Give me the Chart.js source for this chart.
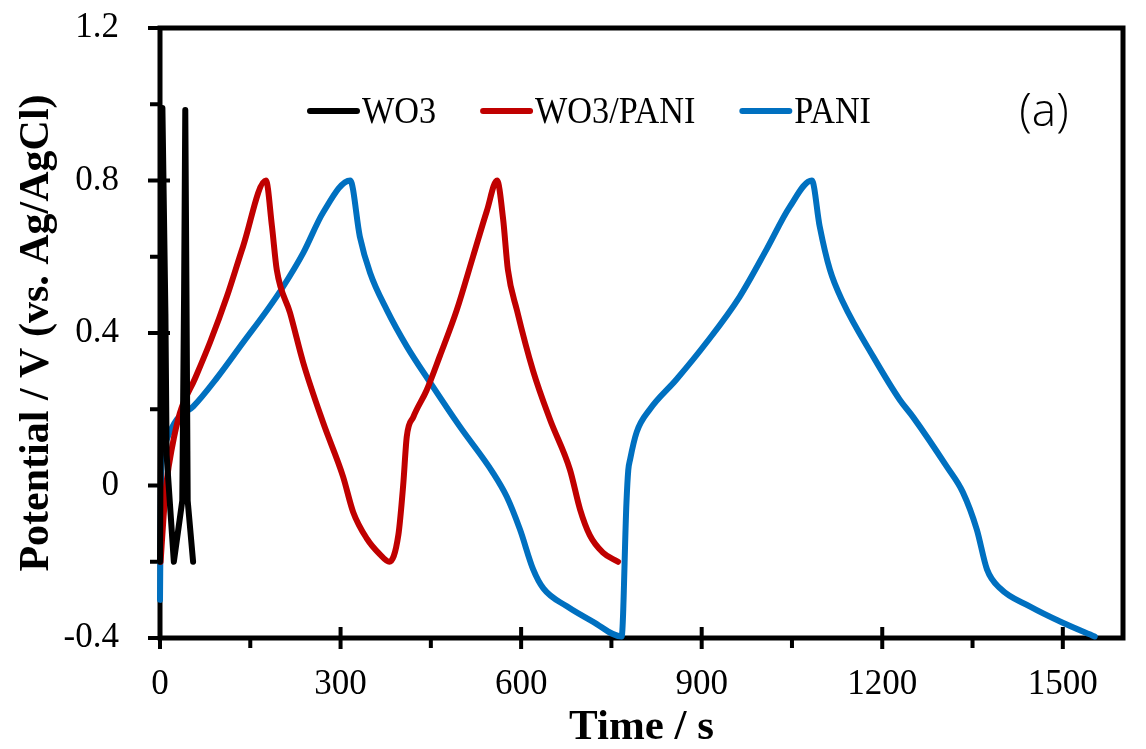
<!DOCTYPE html>
<html>
<head>
<meta charset="UTF-8">
<title>Galvanostatic charge-discharge: WO3, WO3/PANI, PANI</title>
<style>
    html, body { margin: 0; padding: 0; background: #ffffff; }
    #wrap { width: 1146px; height: 749px; }
</style>
</head>
<body>
<div id="wrap"><canvas id="gcd" width="1146" height="749"></canvas></div>

<script src="https://cdn.jsdelivr.net/npm/chart.js@4.4.3/dist/chart.umd.min.js"></script>
<script>
// series: time (s) and potential (V vs. Ag/AgCl)
const seriesNames = ['WO3', 'WO3/PANI', 'PANI'];
const seriesColors = ['#000000', '#C00000', '#0070C0'];

const wo3Time = [0, 4, 9, 11, 23, 37, 40, 42, 44, 46, 55];
const wo3Pot  = [-0.2, 0.99, 0.45, 0.08, -0.2, -0.04, 0.5, 0.985, 0.5, -0.04, -0.2];

const wpTime = [1, 6, 11, 20, 33, 58, 83, 111, 138, 176,
                186, 194, 216, 238, 271, 304, 321, 344, 365, 381,
                396, 404, 410, 421, 443, 465, 493, 520, 543, 560,
                570, 578, 593, 620, 648, 681, 698, 714, 736, 761];
const wpPot  = [-0.2, -0.08, 0.01, 0.1, 0.19, 0.28, 0.375, 0.495, 0.627, 0.8,
                0.68, 0.566, 0.453, 0.322, 0.165, 0.024, -0.07, -0.14, -0.18, -0.2,
                -0.13, 0, 0.128, 0.18, 0.25, 0.34, 0.46, 0.6, 0.72, 0.8,
                0.7, 0.566, 0.46, 0.3, 0.173, 0.042, -0.063, -0.13, -0.176, -0.2];

const paniTime = [0, 1, 2, 5, 11, 28, 55, 95, 138, 178, 204, 238, 271, 316,
                  332, 349, 377, 410, 449, 498, 553, 576, 598, 620, 637, 676, 719, 767,
                  775, 778, 781, 792, 814, 858, 908, 963, 1008, 1046, 1083,
                  1096, 1113, 1135, 1185, 1229, 1251, 1307, 1334, 1357, 1374, 1396, 1445, 1500, 1553];
const paniPot  = [-0.3, -0.1, 0.05, 0.09, 0.12, 0.173, 0.207, 0.283, 0.375, 0.46, 0.52, 0.61, 0.716, 0.8,
                  0.653, 0.558, 0.46, 0.365, 0.27, 0.155, 0.034, -0.029, -0.115, -0.22, -0.27, -0.317, -0.357, -0.396,
                  -0.045, 0.04, 0.068, 0.14, 0.2, 0.278, 0.375, 0.495, 0.62, 0.73, 0.8,
                  0.68, 0.566, 0.48, 0.338, 0.225, 0.18, 0.05, -0.018, -0.115, -0.22, -0.27, -0.317, -0.36, -0.396];

const xTicks = [0, 300, 600, 900, 1200, 1500];
const xMinorTicks = [150, 450, 750, 1050, 1350];
const yTicks = [-0.4, 0, 0.4, 0.8, 1.2];
const yMinorTicks = [-0.2, 0.2, 0.6, 1.0];

const serif = '"Liberation Serif", "Times New Roman", serif';

function toPoints(ts, vs) {
    return ts.map((t, i) => ({ x: t, y: vs[i] }));
}

// plot frame and tick marks (major ticks cross the axis, minor ones sit outside)
const framePlugin = {
    id: 'frame',
    beforeDatasetsDraw(chart) {
        const { ctx, chartArea: a } = chart;
        const x = chart.scales.x, y = chart.scales.y;
        ctx.save();
        ctx.strokeStyle = '#000';
        ctx.lineWidth = 5;
        ctx.strokeRect(a.left, a.top, a.right - a.left, a.bottom - a.top);
        ctx.lineWidth = 4;
        ctx.beginPath();
        xTicks.forEach(v => {
            const px = x.getPixelForValue(v);
            ctx.moveTo(px, a.bottom - 11);
            ctx.lineTo(px, a.bottom + 11);
        });
        xMinorTicks.forEach(v => {
            const px = x.getPixelForValue(v);
            ctx.moveTo(px, a.bottom);
            ctx.lineTo(px, a.bottom + 10);
        });
        yTicks.forEach(v => {
            const py = y.getPixelForValue(v);
            ctx.moveTo(a.left - 12, py);
            ctx.lineTo(a.left + 10, py);
        });
        yMinorTicks.forEach(v => {
            const py = y.getPixelForValue(v);
            ctx.moveTo(a.left - 10, py);
            ctx.lineTo(a.left, py);
        });
        ctx.stroke();
        ctx.restore();
    }
};

// legend inside the plot, plus the panel tag "(a)"
const insideLegend = {
    id: 'insideLegend',
    afterDatasetsDraw(chart) {
        const ctx = chart.ctx;
        const squeeze = 0.9;
        let x = 307;
        const yLine = 111;
        ctx.save();
        ctx.font = '38px ' + serif;
        ctx.textBaseline = 'alphabetic';
        ctx.textAlign = 'left';
        chart.data.datasets.forEach(ds => {
            ctx.strokeStyle = ds.borderColor;
            ctx.lineWidth = 6;
            ctx.lineCap = 'round';
            ctx.beginPath();
            ctx.moveTo(x + 3, yLine);
            ctx.lineTo(x + 50, yLine);
            ctx.stroke();
            x += 55;
            const w = ctx.measureText(ds.label).width * squeeze;
            ctx.save();
            ctx.translate(x, 123);
            ctx.scale(squeeze, 1);
            ctx.fillStyle = '#000';
            ctx.fillText(ds.label, 0, 0);
            ctx.restore();
            x += w + 44;
        });
        ctx.font = '300 46px "Open Sans", "Noto Sans", sans-serif';
        ctx.textAlign = 'center';
        ctx.textBaseline = 'middle';
        ctx.fillStyle = '#000';
        ctx.fillText('(a)', 1044, 113);
        ctx.restore();
    }
};

const sets = [
    [wo3Time, wo3Pot],
    [wpTime, wpPot],
    [paniTime, paniPot]
];

new Chart(document.getElementById('gcd'), {
    type: 'scatter',
    data: {
        datasets: sets.map((s, i) => ({
            label: seriesNames[i],
            data: toPoints(s[0], s[1]),
            showLine: true,
            borderColor: seriesColors[i],
            backgroundColor: seriesColors[i],
            borderWidth: 6,
            pointRadius: 0,
            borderJoinStyle: 'round',
            borderCapStyle: 'round',
            tension: 0,
            cubicInterpolationMode: i === 0 ? 'default' : 'monotone',
            clip: 8
        }))
    },
    options: {
        responsive: false,
        animation: false,
        layout: { padding: { left: 0, top: 28, right: 23, bottom: 0 } },
        plugins: {
            legend: { display: false },
            tooltip: { enabled: false }
        },
        scales: {
            x: {
                type: 'linear',
                min: 0,
                max: 1600,
                afterBuildTicks: s => { s.ticks = xTicks.map(v => ({ value: v })); },
                afterFit: s => {
                    s.height = 111;
                    s.paddingLeft = 0;
                    s.paddingRight = 0;
                },
                grid: { display: false },
                border: { display: false },
                ticks: {
                    color: '#000',
                    font: { family: serif, size: 35 },
                    padding: 18,
                    maxRotation: 0,
                    autoSkip: false,
                    callback: v => String(v)
                },
                title: {
                    display: true,
                    text: 'Time / s',
                    color: '#000',
                    font: { family: serif, size: 43, weight: 'bold', lineHeight: 1 },
                    padding: { top: 0, bottom: 0 }
                }
            },
            y: {
                type: 'linear',
                min: -0.4,
                max: 1.2,
                afterBuildTicks: s => { s.ticks = yTicks.map(v => ({ value: v })); },
                afterFit: s => {
                    s.width = 160;
                    s.paddingTop = 0;
                    s.paddingBottom = 0;
                },
                grid: { display: false },
                border: { display: false },
                ticks: {
                    color: '#000',
                    font: { family: serif, size: 35 },
                    padding: 33,
                    callback: v => String(Math.round(v * 10) / 10)
                },
                title: {
                    display: true,
                    text: 'Potential / V (vs. Ag/AgCl)',
                    color: '#000',
                    font: { family: serif, size: 42, weight: 'bold', lineHeight: 1 },
                    padding: { top: 16, bottom: 0 }
                }
            }
        }
    },
    plugins: [framePlugin, insideLegend]
});
</script>
</body>
</html>
